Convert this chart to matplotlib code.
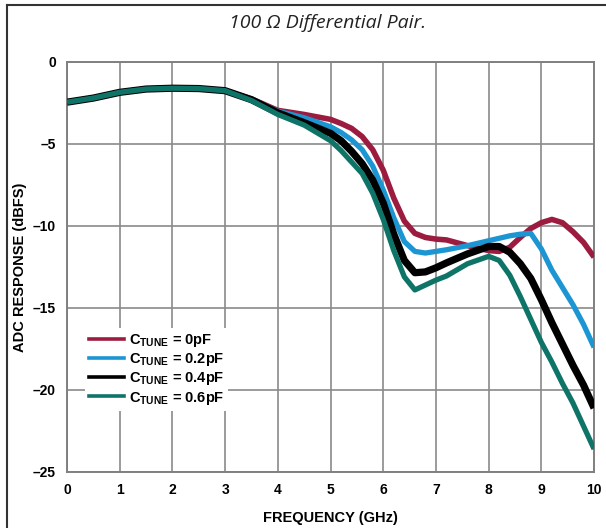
import matplotlib
matplotlib.use("Agg")
import matplotlib.pyplot as plt
from matplotlib.lines import Line2D

plt.rcParams['font.family'] = ['Liberation Sans', 'DejaVu Sans']
plt.rcParams['mathtext.fontset'] = 'custom'
plt.rcParams['mathtext.rm'] = 'Liberation Sans:bold'
plt.rcParams['mathtext.bf'] = 'Liberation Sans:bold'

freq = [0, 0.5, 1, 1.5, 2, 2.5, 3, 3.5, 4, 4.5, 5, 5.2, 5.4, 5.6, 5.8, 6,
        6.2, 6.4, 6.6, 6.8, 7, 7.2, 7.6, 8, 8.2, 8.4, 8.6, 8.8, 9, 9.2,
        9.4, 9.6, 9.8, 10]

c_0pf = [-2.45, -2.2, -1.85, -1.65, -1.6, -1.62, -1.75, -2.25, -2.95, -3.2,
         -3.5, -3.75, -4.05, -4.55, -5.35, -6.6, -8.3, -9.7, -10.45, -10.7,
         -10.8, -10.85, -11.2, -11.5, -11.55, -11.3, -10.7, -10.15, -9.8,
         -9.6, -9.8, -10.35, -11.0, -11.9]
c_02pf = [-2.45, -2.2, -1.85, -1.65, -1.6, -1.62, -1.75, -2.27, -3.0, -3.4,
          -3.95, -4.3, -4.75, -5.35, -6.35, -7.8, -9.5, -10.95, -11.55,
          -11.65, -11.55, -11.45, -11.2, -10.9, -10.75, -10.6, -10.5, -10.45,
          -11.4, -12.7, -13.75, -14.8, -16.0, -17.4]
c_04pf = [-2.45, -2.2, -1.85, -1.65, -1.6, -1.62, -1.75, -2.3, -3.1, -3.7,
          -4.35, -4.8, -5.45, -6.2, -7.2, -8.6, -10.5, -12.1, -12.85, -12.8,
          -12.55, -12.25, -11.7, -11.25, -11.25, -11.6, -12.3, -13.2, -14.5,
          -15.9, -17.2, -18.5, -19.7, -21.1]
c_06pf = [-2.45, -2.2, -1.85, -1.65, -1.6, -1.62, -1.75, -2.35, -3.2, -3.85,
          -4.8, -5.4, -6.1, -6.8, -8.0, -9.6, -11.5, -13.1, -13.9, -13.6,
          -13.3, -13.05, -12.3, -11.85, -12.1, -13.0, -14.3, -15.7, -17.1,
          -18.3, -19.6, -20.8, -22.2, -23.6]

labels = ['0pF', '0.2pF', '0.4pF', '0.6pF']
series = [c_0pf, c_02pf, c_04pf, c_06pf]
colors = ['#9c1c40', '#1c96d2', '#000000', '#0f7468']
widths = [4.0, 3.8, 5.2, 3.8]

yticks = [0, -5, -10, -15, -20, -25]
xticks = list(range(0, 11))

fig = plt.figure(figsize=(6.06, 5.28), dpi=100)
ax = fig.add_axes([0.1106, 0.1061, 0.8697, 0.7765])

for vals, col, lw in zip(series, colors, widths):
    ax.plot(freq, vals, color=col, lw=lw, solid_capstyle='butt',
            solid_joinstyle='round', zorder=3)

ax.set_xlim(0, 10)
ax.set_ylim(-25, 0)
ax.set_xticks(xticks)
ax.set_xticklabels([str(x) for x in xticks], fontweight='bold', fontsize=10)
ax.set_yticks(yticks)
ax.set_yticklabels([str(y).replace('-', '\u2013') for y in yticks],
                   fontweight='bold', fontsize=10)
ax.tick_params(length=0, pad=8)
ax.grid(True, color='#8a8a8a', lw=1.2)
for s in ax.spines.values():
    s.set_color('#808080')
    s.set_linewidth(1.4)

ax.set_xlabel('FREQUENCY (GHz)', fontweight='bold', fontsize=10.5, labelpad=10)
ax.set_ylabel('ADC RESPONSE (dBFS)', fontweight='bold', fontsize=10.5, labelpad=4)

handles = [Line2D([0], [0], color=c, lw=2.6) for c in colors]
leg = ax.legend(handles, [r'C$_{\mathrm{TUNE}}$ = ' + l for l in labels],
                loc='upper left', bbox_to_anchor=(0.034, 0.352),
                borderaxespad=0, borderpad=0.3, handlelength=2.4,
                handletextpad=0.3, labelspacing=0.15, frameon=True,
                fancybox=False, prop={'weight': 'bold', 'size': 10.5})
leg.get_frame().set_edgecolor('none')
leg.get_frame().set_facecolor('white')
leg.get_frame().set_alpha(1)
leg.set_zorder(5)

fig.text(0.540, 0.957, '100 \u03a9 Differential Pair.', ha='center', va='center',
         fontsize=14, style='italic', family='Open Sans', color='#222222')

# outer frame
fig.add_artist(Line2D([7 / 606, 1], [1 - 5 / 528, 1 - 5 / 528],
                      transform=fig.transFigure, color='#333333', lw=1.5))
fig.add_artist(Line2D([7 / 606, 7 / 606], [0, 1 - 5 / 528],
                      transform=fig.transFigure, color='#333333', lw=1.5))

fig.savefig('out.png', dpi=100)
